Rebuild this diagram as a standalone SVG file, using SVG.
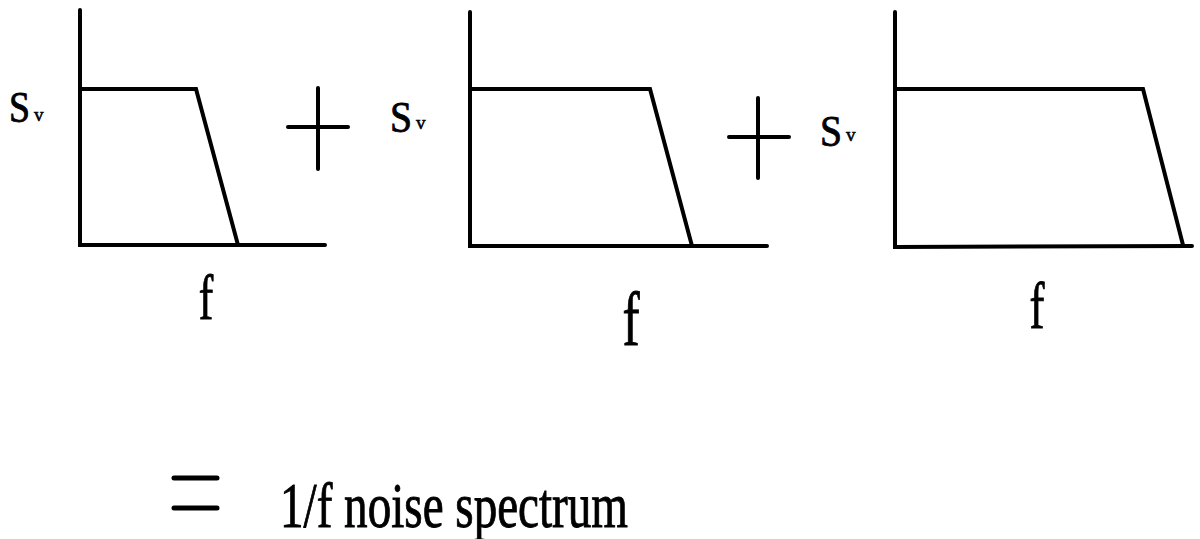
<svg xmlns="http://www.w3.org/2000/svg" width="1200" height="539" viewBox="0 0 1200 539">
<style>
.ln{fill:none;stroke:#000;stroke-width:4;stroke-linecap:round;stroke-linejoin:miter}
.t{font-family:"Liberation Serif","Times New Roman",serif;fill:#000;stroke:#000;stroke-width:0.9}
.S{font-size:45px}
.v{font-size:19px;stroke-width:0.6}
</style>
<rect width="1200" height="539" fill="#fff"/>
<g id="graph1">
<polyline class="ln" points="80,10 80,245 325,245"/>
<polyline class="ln" points="80,89 196,89 238,245"/>
<text class="t S" x="9" y="122" textLength="21" lengthAdjust="spacingAndGlyphs">S</text>
<text class="t v" x="34" y="121">v</text>
<text class="t" font-size="64" transform="translate(206,319) scale(0.68,1)" text-anchor="middle">f</text>
</g>
<g id="plus1">
<line class="ln" x1="288" y1="127" x2="348" y2="127"/>
<line class="ln" x1="318" y1="88" x2="318" y2="169"/>
</g>
<g id="graph2">
<polyline class="ln" points="470,12 470,246 767,246"/>
<polyline class="ln" points="470,89 650,89 692,246"/>
<text class="t S" x="390" y="132" textLength="22" lengthAdjust="spacingAndGlyphs">S</text>
<text class="t v" x="416" y="129">v</text>
<text class="t" font-size="76" transform="translate(631,345) scale(0.68,1)" text-anchor="middle">f</text>
</g>
<g id="plus2">
<line class="ln" x1="729" y1="137" x2="789" y2="137"/>
<line class="ln" x1="758" y1="98" x2="758" y2="178"/>
</g>
<g id="graph3">
<polyline class="ln" points="895,12 895,247 1192,246"/>
<polyline class="ln" points="895,89 1143,89 1183,245"/>
<text class="t S" x="820" y="146" textLength="22" lengthAdjust="spacingAndGlyphs">S</text>
<text class="t v" x="846" y="141">v</text>
<text class="t" font-size="66" transform="translate(1037,328) scale(0.68,1)" text-anchor="middle">f</text>
</g>
<g id="result">
<line class="ln" style="stroke-width:5" x1="174" y1="478" x2="217" y2="478"/>
<line class="ln" style="stroke-width:5" x1="174" y1="508" x2="217" y2="508"/>
<text class="t" font-size="64" x="280" y="527" textLength="348" lengthAdjust="spacingAndGlyphs">1/f noise spectrum</text>
</g>
</svg>
